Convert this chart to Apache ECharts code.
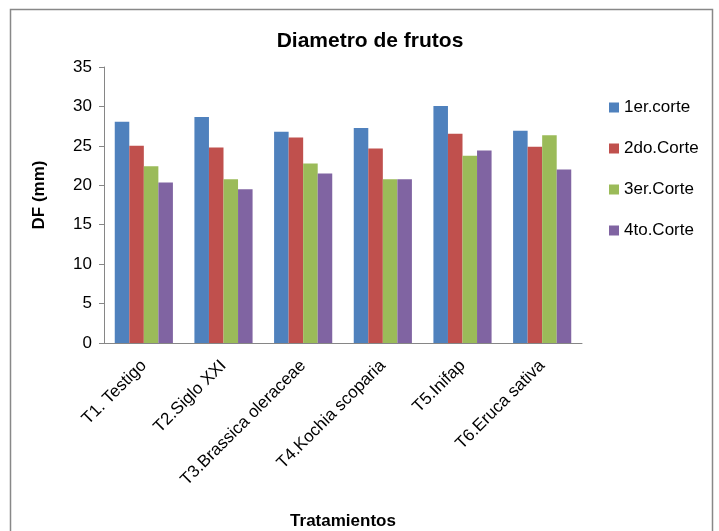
<!DOCTYPE html>
<html>
<head>
<meta charset="utf-8">
<script src="https://cdn.jsdelivr.net/npm/echarts@6/dist/echarts.min.js"></script>
<style>
  html, body { margin: 0; padding: 0; background: #fff; }
  #chart { width: 719px; height: 531px; }
</style>
</head>
<body>
<div id="chart"></div>
<script>
// Tratamientos y valores de diametro por corte
const categories = [
  "T1. Testigo",
  "T2.Siglo XXI",
  "T3.Brassica oleraceae",
  "T4.Kochia scoparia",
  "T5.Inifap",
  "T6.Eruca sativa",
];
const corte1 = [28.05, 28.65, 26.8, 27.25, 30.05, 26.9];
const corte2 = [25.0, 24.8, 26.05, 24.65, 26.55, 24.9];
const corte3 = [22.4, 20.75, 22.75, 20.75, 23.75, 26.35];
const corte4 = [20.35, 19.5, 21.5, 20.75, 24.4, 22.0];
const seriesNames = ["1er.corte", "2do.Corte", "3er.Corte", "4to.Corte"];
const colors = ["#4F81BD", "#C0504D", "#9BBB59", "#8064A2"];

const chart = echarts.init(document.getElementById("chart"));
const font = "Liberation Sans, Arial, sans-serif";

const option = {
  animation: false,
  color: colors,
  textStyle: { fontFamily: font },
  title: {
    text: "Diametro de frutos",
    left: 365,
    top: 26,
    textAlign: "center",
    textStyle: { fontSize: 21, fontWeight: "bold", color: "#000", fontFamily: font },
  },
  graphic: [
    {
      type: "rect",
      shape: { x: 10.5, y: 9.5, width: 702, height: 560 },
      style: { fill: "none", stroke: "#888", lineWidth: 1.5 },
      silent: true,
    },
    {
      // titulo del eje Y
      type: "text",
      x: 39,
      y: 195,
      rotation: Math.PI / 2,
      style: {
        text: "DF (mm)",
        fontSize: 17,
        fontWeight: "bold",
        fontFamily: font,
        fill: "#000",
        align: "center",
        verticalAlign: "middle",
      },
      silent: true,
    },
  ],
  legend: {
    orient: "vertical",
    left: 604,
    top: 94,
    itemWidth: 10,
    itemHeight: 10,
    itemGap: 24,
    icon: "rect",
    textStyle: { fontSize: 17, color: "#000", fontFamily: font },
    data: seriesNames,
  },
  grid: { left: 104, top: 67, width: 478, height: 276, outerBoundsMode: "none" },
  xAxis: {
    type: "category",
    data: categories,
    name: "Tratamientos",
    nameLocation: "middle",
    nameGap: 170,
    nameTextStyle: { fontSize: 17, fontWeight: "bold", color: "#000" },
    axisLine: { lineStyle: { color: "#868686" } },
    axisTick: { show: false },
    axisLabel: { rotate: 45, fontSize: 17, color: "#000", margin: 20, interval: 0 },
  },
  yAxis: {
    type: "value",
    min: 0,
    max: 35,
    interval: 5,
    axisLine: { show: true, lineStyle: { color: "#868686" } },
    axisTick: { show: true, length: 5, lineStyle: { color: "#868686" } },
    splitLine: { show: false },
    axisLabel: { fontSize: 17, color: "#000", margin: 12 },
  },
  series: [corte1, corte2, corte3, corte4].map((d, i) => ({
    name: seriesNames[i],
    type: "bar",
    data: d,
    barGap: "0%",
    barCategoryGap: "27%",
  })),
};

chart.setOption(option);
window.onresize = function () {
  chart.resize();
};
</script>
</body>
</html>
